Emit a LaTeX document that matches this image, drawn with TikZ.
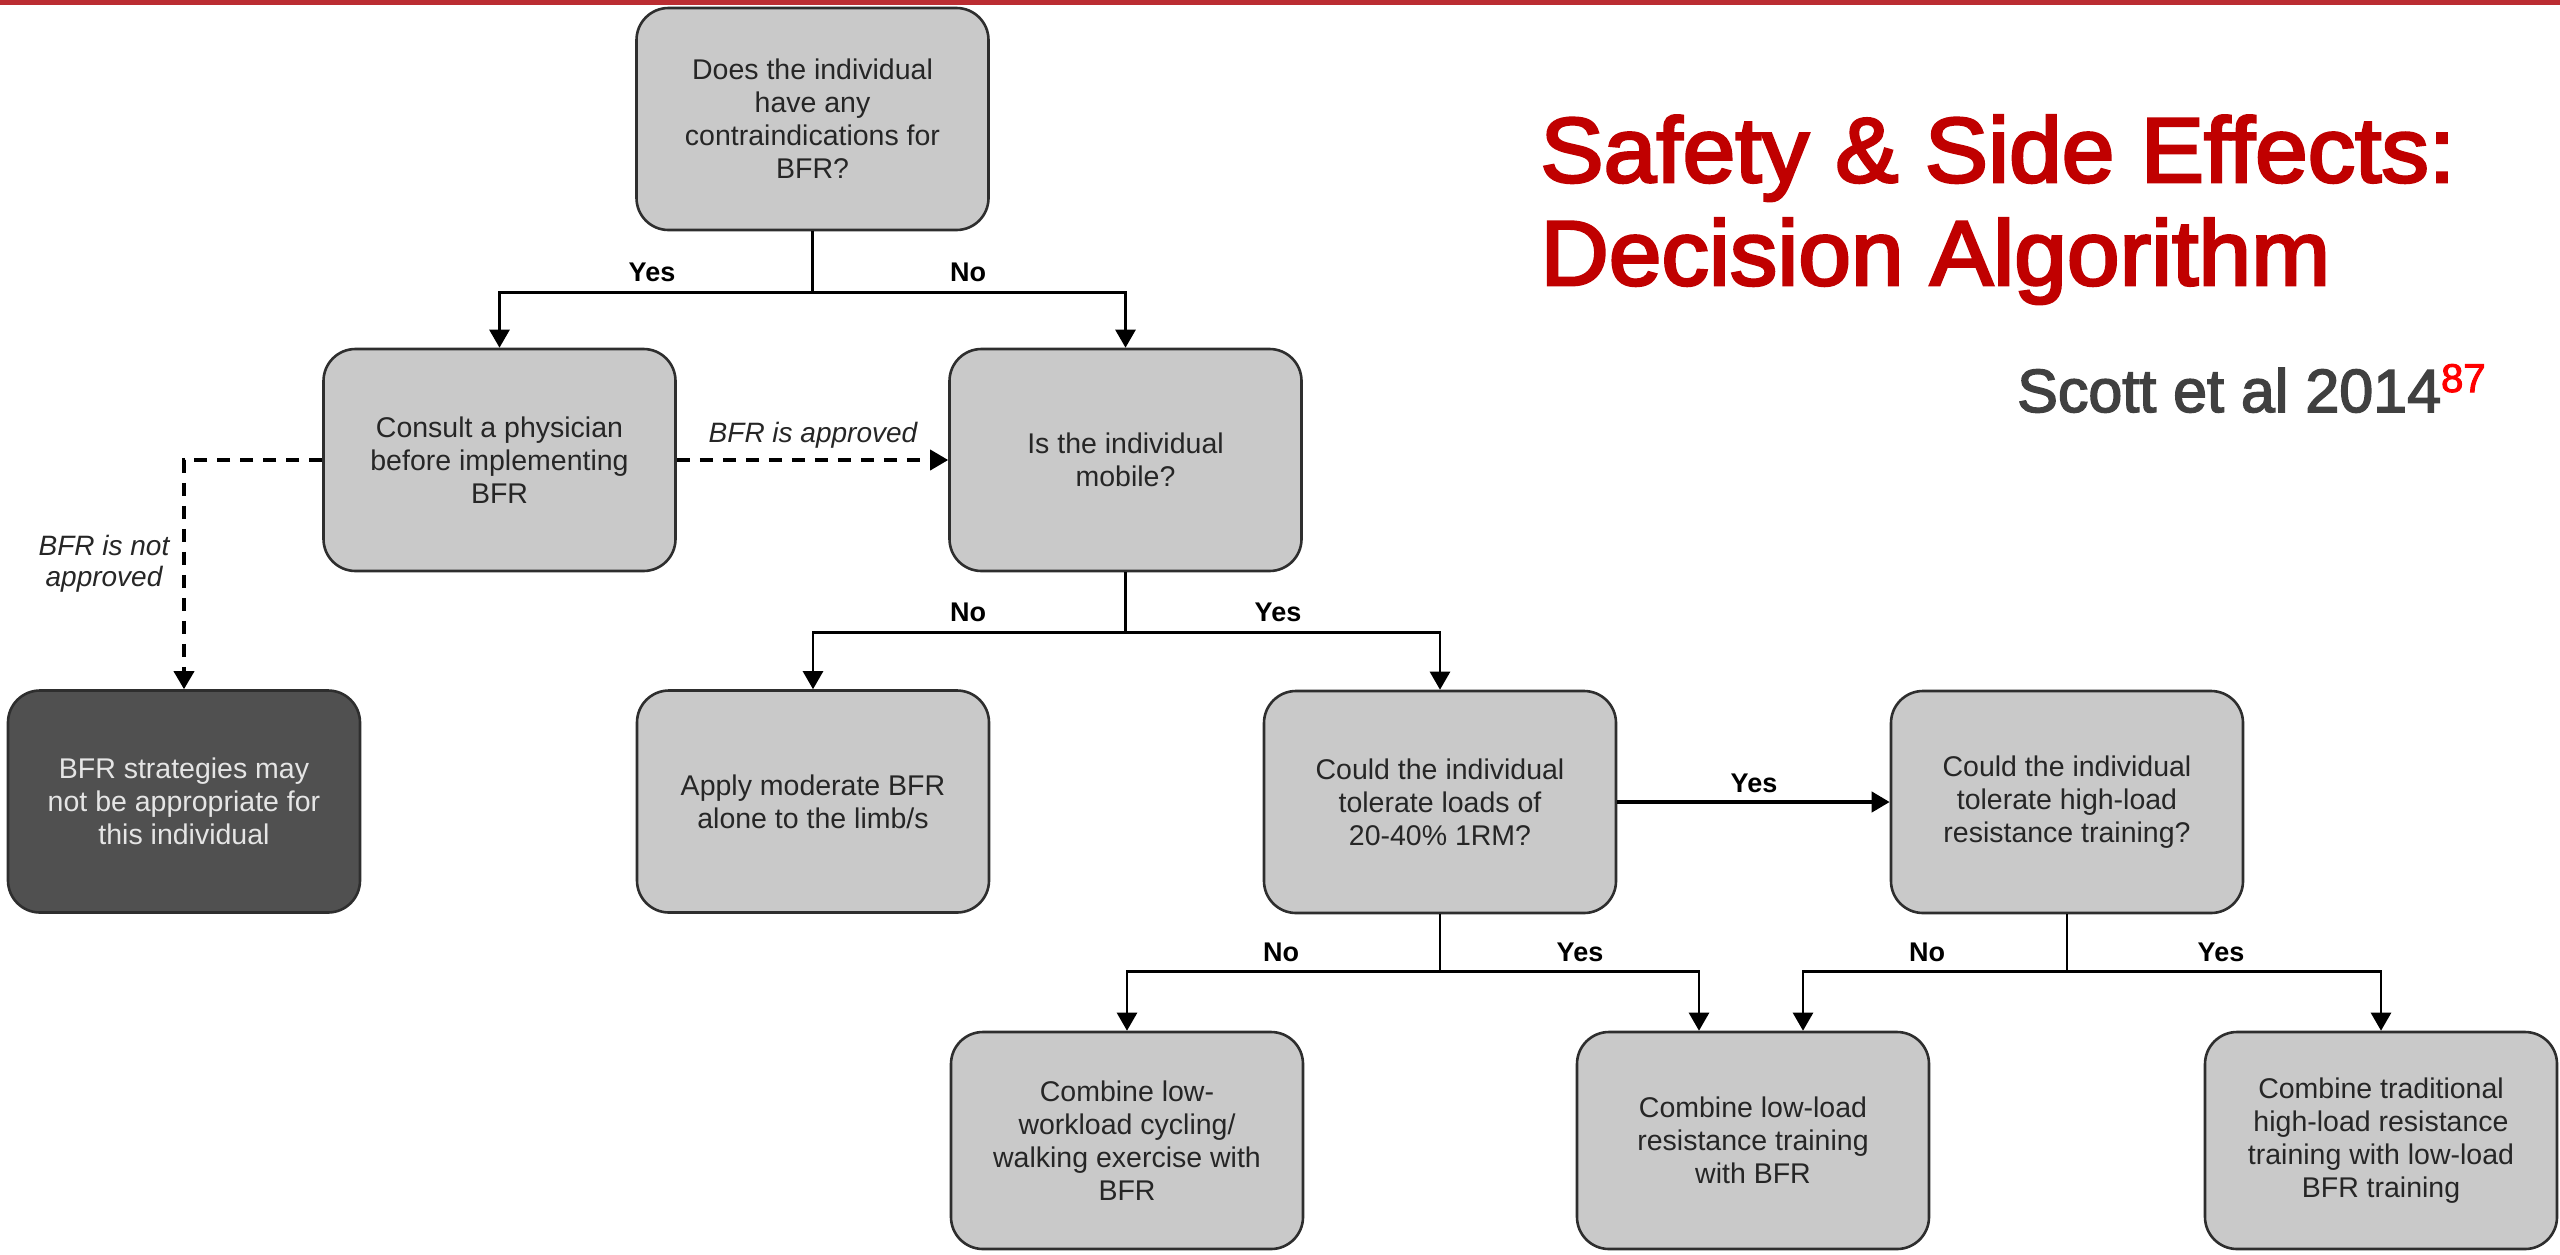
\documentclass[tikz,border=0pt]{standalone}
\usepackage{fontspec}
\setmainfont{Liberation Sans}
\newfontfamily\headfont{Liberation Sans}[FakeBold=3,FakeStretch=1.03]
\newfontfamily\citefont{Liberation Sans}[FakeBold=2.5]
\usetikzlibrary{arrows.meta,calc}
\definecolor{barred}{HTML}{BB2D32}
\definecolor{titlered}{HTML}{C00000}
\definecolor{boxgray}{HTML}{C9C9C9}
\definecolor{darkfill}{HTML}{505050}
\definecolor{edgegray}{HTML}{2E2E2E}
\definecolor{txtgray}{HTML}{262626}
\definecolor{subgray}{HTML}{404040}
\definecolor{supred}{HTML}{FF0000}
\begin{document}
\begin{tikzpicture}[x=0.5pt,y=-0.5pt,
 box/.style={draw=edgegray, line width=1.3pt, fill=boxgray, rounded corners=16pt,
   minimum width=176pt, minimum height=111pt, align=center, text=txtgray,
   font=\fontsize{14.25pt}{16.5pt}\selectfont, inner sep=0pt},
 lowbox/.style={box, minimum height=108.5pt},
 darkbox/.style={box, fill=darkfill, text=white!90!black},
 arr/.style={line width=1.3pt, -{Triangle[length=9pt,width=10pt]}},
 dasharr/.style={arr, line width=1.8pt, dash pattern=on 6.5pt off 5pt},
 lbl/.style={font=\bfseries\fontsize{13.5pt}{16pt}\selectfont, inner sep=0pt},
 ilbl/.style={font=\itshape\fontsize{14pt}{15.5pt}\selectfont, text=txtgray, inner sep=0pt, align=center},
 headline/.style={anchor=base west, inner sep=0pt, text=titlered, font=\headfont\fontsize{46pt}{50pt}\selectfont}
]
\useasboundingbox (0,0) rectangle (2560,1254);
\fill[white] (0,0) rectangle (2560,1254);
\fill[barred] (0,0) rectangle (2560,5);

% nodes
\node[box] (q0) at (812.5,119) {Does the individual\\have any\\contraindications for\\BFR?};
\node[box] (consult) at (499.5,460) {Consult a physician\\before implementing\\BFR};
\node[box] (mobile) at (1125.5,460) {Is the individual\\mobile?};
\node[darkbox] (notok) at (184,801.5) {BFR strategies may\\not be appropriate for\\this individual};
\node[box] (apply) at (813,801.5) {Apply moderate BFR\\alone to the limb/s};
\node[box] (q1) at (1440,802) {Could the individual\\tolerate loads of\\20-40\% 1RM?};
\node[box] (q2) at (2067,802) {Could the individual\\tolerate high-load\\resistance training?};
\node[lowbox] (c1) at (1127,1140.5) {Combine low-\\workload cycling/\\walking exercise with\\BFR};
\node[lowbox] (c2) at (1753,1140.5) {Combine low-load\\resistance training\\with BFR};
\node[lowbox] (c3) at (2381,1140.5) {Combine traditional\\high-load resistance\\training with low-load\\BFR training};

% connectors
\draw[arr] (q0.south) -- ++(0,61) -| (consult.north);
\draw[arr] (q0.south) -- ++(0,61) -| (mobile.north);
\node[lbl] (l1) at (652,272) {Yes};
\node[lbl] (l2) at (968,272) {No};

\draw[dasharr] (consult.east) -- (mobile.west);
\node[ilbl, anchor=base] (l3) at (813,442) {BFR is approved};
\draw[dasharr] (consult.west) -| (notok.north);
\node[ilbl] (l4) at (104,564) {BFR is not\\approved};

\draw[arr] (mobile.south) -- ++(0,60) -| (apply.north);
\draw[arr] (mobile.south) -- ++(0,60) -| (q1.north);
\node[lbl] (l5) at (968,612) {No};
\node[lbl] (l6) at (1278,612) {Yes};

\draw[arr, line width=2pt] (q1.east) -- (q2.west);
\node[lbl] (l7) at (1754,783) {Yes};

\draw[arr] (q1.south) -- ++(0,57) -| (c1.north);
\draw[arr] (q1.south) -- ++(0,57) -| ($(c2.north)+(-54,0)$);
\node[lbl] (l8) at (1281,952) {No};
\node[lbl] (l9) at (1580,952) {Yes};

\draw[arr] (q2.south) -- ++(0,57) -| ($(c2.north)+(50,0)$);
\draw[arr] (q2.south) -- ++(0,57) -| (c3.north);
\node[lbl] (l10) at (1927,952) {No};
\node[lbl] (l11) at (2221,952) {Yes};

% title
\node[headline] (title1) at (1540,182) {Safety \& Side Effects:};
\node[headline] (title2) at (1540,285) {Decision Algorithm};
\node[anchor=base east, inner sep=0pt, font=\citefont\fontsize{30.5pt}{34pt}\selectfont] (cite) at (2486,412)
  {\textcolor{subgray}{Scott et al 2014}\raisebox{10pt}{\fontsize{20pt}{20pt}\selectfont\textcolor{supred}{87}}};
\end{tikzpicture}
\end{document}
